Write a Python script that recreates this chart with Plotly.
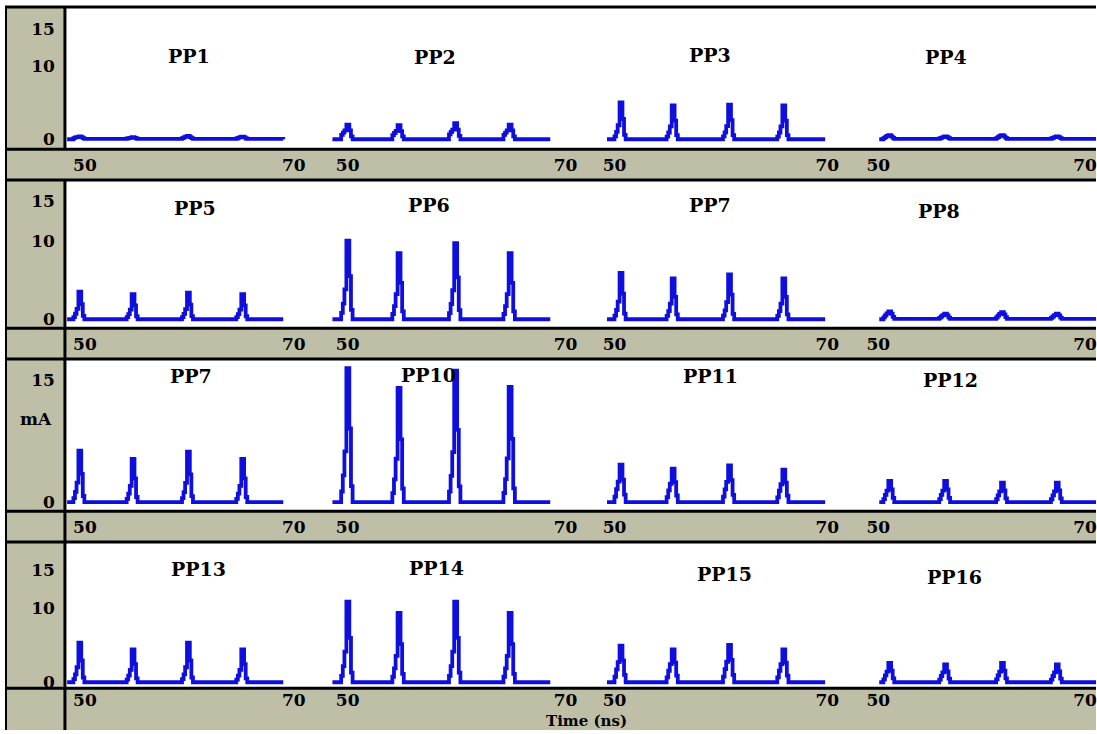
import plotly.graph_objects as go

W, H = 1097, 734

# ---------------- data ----------------
PANEL_NAMES = [
    ["PP1", "PP2", "PP3", "PP4"],
    ["PP5", "PP6", "PP7", "PP8"],
    ["PP7", "PP10", "PP11", "PP12"],
    ["PP13", "PP14", "PP15", "PP16"],
]

# sample times (ns) for each column of panels
TIME_COL1 = [48.3, 48.9, 49.05, 49.2, 49.38, 49.65, 49.8, 49.95,
             54.0, 54.15, 54.3, 54.48, 54.75, 54.9, 55.05,
             59.3, 59.45, 59.6, 59.78, 60.05, 60.2, 60.35,
             64.5, 64.65, 64.8, 64.98, 65.25, 65.4, 65.55, 69.0]
TIME_COL2 = [48.6, 49.4, 49.55, 49.7, 49.88, 50.15, 50.3, 50.45,
             54.1, 54.25, 54.4, 54.58, 54.85, 55.0, 55.15,
             59.3, 59.45, 59.6, 59.78, 60.05, 60.2, 60.35,
             64.3, 64.45, 64.6, 64.78, 65.05, 65.2, 65.35, 68.6]
TIME_COL3 = [49.3, 50.0, 50.15, 50.3, 50.48, 50.75, 50.9, 51.05,
             54.9, 55.05, 55.2, 55.38, 55.65, 55.8, 55.95,
             60.2, 60.35, 60.5, 60.68, 60.95, 61.1, 61.25,
             65.3, 65.45, 65.6, 65.78, 66.05, 66.2, 66.35, 69.8]
TIME_COL4 = [50.1, 50.5, 50.65, 50.8, 50.98, 51.25, 51.4, 51.55,
             55.9, 56.05, 56.2, 56.38, 56.65, 56.8, 56.95,
             61.4, 61.55, 61.7, 61.88, 62.15, 62.3, 62.45,
             66.7, 66.85, 67.0, 67.18, 67.45, 67.6, 67.75, 71.1]
TIME_COLS = [TIME_COL1, TIME_COL2, TIME_COL3, TIME_COL4]

# current (mA) per panel
PP1 = [0, 0.15, 0.25, 0.3, 0.4, 0.3, 0.15, 0.05, 0.1, 0.15, 0.2, 0.3, 0.2, 0.1, 0.05,
       0.15, 0.25, 0.35, 0.45, 0.3, 0.15, 0.05, 0.1, 0.2, 0.3, 0.35, 0.25, 0.1, 0.05, 0]
PP2 = [0, 0.6, 0.9, 1.2, 2.0, 1.2, 0.4, 0, 0.55, 0.85, 1.15, 1.9, 1.1, 0.4, 0,
       0.65, 1.0, 1.3, 2.2, 1.3, 0.45, 0, 0.6, 0.9, 1.2, 2.0, 1.2, 0.4, 0, 0]
PP3 = [0, 0.4, 1.0, 1.9, 5.0, 2.75, 0.6, 0, 0.37, 0.92, 1.75, 4.6, 2.53, 0.55, 0,
       0.38, 0.94, 1.79, 4.7, 2.59, 0.56, 0, 0.37, 0.92, 1.75, 4.6, 2.53, 0.55, 0, 0]
PP4 = [0, 0.15, 0.3, 0.45, 0.55, 0.4, 0.2, 0.05, 0.1, 0.2, 0.3, 0.4, 0.3, 0.15, 0.05,
       0.15, 0.3, 0.45, 0.55, 0.4, 0.2, 0.05, 0.1, 0.2, 0.3, 0.4, 0.3, 0.15, 0.05, 0]
PP5 = [0, 0.28, 0.7, 1.33, 3.5, 1.93, 0.42, 0, 0.26, 0.64, 1.22, 3.2, 1.76, 0.38, 0,
       0.27, 0.68, 1.29, 3.4, 1.87, 0.41, 0, 0.26, 0.64, 1.22, 3.2, 1.76, 0.38, 0, 0]
PP6 = [0, 0.8, 2.0, 3.8, 10.0, 5.5, 1.2, 0, 0.67, 1.68, 3.19, 8.4, 4.62, 1.01, 0,
       0.78, 1.94, 3.69, 9.7, 5.34, 1.16, 0, 0.67, 1.68, 3.19, 8.4, 4.62, 1.01, 0, 0]
PP7_A = [0, 0.47, 1.18, 2.24, 5.9, 3.25, 0.71, 0, 0.42, 1.04, 1.98, 5.2, 2.86, 0.62, 0,
         0.46, 1.14, 2.17, 5.7, 3.14, 0.68, 0, 0.42, 1.04, 1.98, 5.2, 2.86, 0.62, 0, 0]
PP8 = [0, 0.25, 0.5, 0.75, 1.0, 0.7, 0.3, 0.05, 0.18, 0.35, 0.52, 0.7, 0.5, 0.2, 0.05,
       0.22, 0.45, 0.68, 0.9, 0.63, 0.27, 0.05, 0.18, 0.35, 0.52, 0.7, 0.5, 0.2, 0.05, 0]
PP7_B = [0, 0.5, 1.26, 2.39, 6.3, 3.47, 0.76, 0, 0.42, 1.06, 2.01, 5.3, 2.92, 0.64, 0,
         0.5, 1.24, 2.36, 6.2, 3.41, 0.74, 0, 0.42, 1.06, 2.01, 5.3, 2.92, 0.64, 0, 0]
PP10 = [0, 1.31, 3.28, 6.23, 16.4, 9.02, 1.97, 0, 1.12, 2.8, 5.32, 14.0, 7.7, 1.68, 0,
        1.29, 3.22, 6.12, 16.1, 8.86, 1.93, 0, 1.13, 2.82, 5.36, 14.1, 7.76, 1.69, 0, 0]
PP11 = [0, 0.69, 1.61, 2.53, 4.6, 2.76, 0.92, 0, 0.62, 1.44, 2.26, 4.1, 2.46, 0.82, 0,
        0.68, 1.58, 2.48, 4.5, 2.7, 0.9, 0, 0.6, 1.4, 2.2, 4.0, 2.4, 0.8, 0, 0]
PP12 = [0, 0.39, 0.91, 1.43, 2.6, 1.56, 0.52, 0, 0.39, 0.91, 1.43, 2.6, 1.56, 0.52, 0,
        0.36, 0.84, 1.32, 2.4, 1.44, 0.48, 0, 0.36, 0.84, 1.32, 2.4, 1.44, 0.48, 0, 0]
PP13 = [0, 0.42, 1.06, 2.01, 5.3, 2.92, 0.64, 0, 0.35, 0.88, 1.67, 4.4, 2.42, 0.53, 0,
        0.42, 1.06, 2.01, 5.3, 2.92, 0.64, 0, 0.35, 0.88, 1.67, 4.4, 2.42, 0.53, 0, 0]
PP14 = [0, 0.86, 2.16, 4.1, 10.8, 5.94, 1.3, 0, 0.74, 1.86, 3.53, 9.3, 5.12, 1.12, 0,
        0.86, 2.16, 4.1, 10.8, 5.94, 1.3, 0, 0.74, 1.86, 3.53, 9.3, 5.12, 1.12, 0, 0]
PP15 = [0, 0.74, 1.72, 2.7, 4.9, 2.94, 0.98, 0, 0.66, 1.54, 2.42, 4.4, 2.64, 0.88, 0,
        0.75, 1.75, 2.75, 5.0, 3.0, 1.0, 0, 0.66, 1.54, 2.42, 4.4, 2.64, 0.88, 0, 0]
PP16 = [0, 0.39, 0.91, 1.43, 2.6, 1.56, 0.52, 0, 0.36, 0.84, 1.32, 2.4, 1.44, 0.48, 0,
        0.39, 0.91, 1.43, 2.6, 1.56, 0.52, 0, 0.36, 0.84, 1.32, 2.4, 1.44, 0.48, 0, 0]

CURRENTS = [
    [PP1, PP2, PP3, PP4],
    [PP5, PP6, PP7_A, PP8],
    [PP7_B, PP10, PP11, PP12],
    [PP13, PP14, PP15, PP16],
]

X_TICKS = [50, 70]
Y_TICKS_ROWS = [[0, 10, 15], [0, 10, 15], [0, 15], [0, 10, 15]]
Y_LABEL = "mA"
X_LABEL = "Time (ns)"

# ---------------- geometry / style ----------------
GRAY = "#BFBFA8"
BLUE = "#0E0EDF"
FONT = "DejaVu Serif"

COL_DOM_PX = [(65, 320), (320, 590), (590, 852), (852, 1097)]
COL_RANGE = [(48.09, 72.49), (47.43, 72.20), (47.65, 72.25), (47.39, 71.06)]
ROW_DOM_PX = [(8, 150), (182, 330), (362, 514), (546, 692)]
ROW_RANGE = [(-1.35, 17.84), (-1.14, 17.6), (-1.1, 17.4), (-0.8, 18.67)]
ROW_XTICK_STANDOFF = [4, 4, 4, 0]
TITLE_POS = [
    [(189, 56), (435, 57), (711, 55), (947, 57)],
    [(195, 209), (429, 206), (711, 206), (940, 212)],
    [(191, 378), (429, 377), (711, 378), (951, 382)],
    [(199, 572), (437, 571), (725, 577), (955, 580)],
]


def px(x):
    return x / W


def py(y):
    return 1 - y / H


fig = go.Figure()
layout = dict(
    width=W, height=H,
    margin=dict(l=0, r=0, t=0, b=0),
    paper_bgcolor="white", plot_bgcolor="rgba(0,0,0,0)",
    showlegend=False,
)

annotations = []
for r in range(4):
    for c in range(4):
        k = r * 4 + c + 1
        xa = "x" if k == 1 else f"x{k}"
        ya = "y" if k == 1 else f"y{k}"
        fig.add_trace(go.Scatter(
            x=TIME_COLS[c], y=CURRENTS[r][c], mode="lines",
            line=dict(color=BLUE, width=3.8, shape="hv"),
            xaxis=xa, yaxis=ya, hoverinfo="skip",
        ))
        d0, d1 = COL_DOM_PX[c]
        t0, t1 = ROW_DOM_PX[r]
        layout["xaxis" if k == 1 else f"xaxis{k}"] = dict(
            domain=[px(d0), px(d1)], range=list(COL_RANGE[c]), anchor=ya,
            tickvals=X_TICKS, ticks="", showgrid=False, zeroline=False,
            showline=False, ticklabelstandoff=ROW_XTICK_STANDOFF[r],
            ticklabeloverflow="allow",
            tickfont=dict(family=FONT, size=17, color="black", weight="bold"),
        )
        layout["yaxis" if k == 1 else f"yaxis{k}"] = dict(
            domain=[py(t1), py(t0)], range=list(ROW_RANGE[r]), anchor=xa,
            tickvals=Y_TICKS_ROWS[r], ticks="", showgrid=False, zeroline=False,
            showline=False, showticklabels=(c == 0), ticklabelstandoff=9,
            tickfont=dict(family=FONT, size=17, color="black", weight="bold"),
        )
        tx, ty = TITLE_POS[r][c]
        annotations.append(dict(
            text=PANEL_NAMES[r][c], x=px(tx), y=py(ty), xref="paper", yref="paper",
            showarrow=False, xanchor="center", yanchor="middle",
            font=dict(family=FONT, size=19, color="black", weight="bold"),
        ))

annotations.append(dict(text=Y_LABEL, x=px(36), y=py(421), xref="paper", yref="paper",
                        showarrow=False, xanchor="center", yanchor="middle",
                        font=dict(family=FONT, size=17, color="black", weight="bold")))
annotations.append(dict(text=X_LABEL, x=px(587), y=py(734), xref="paper", yref="paper",
                        showarrow=False, xanchor="center", yanchor="bottom", yshift=-2,
                        font=dict(family=FONT, size=15, color="black", weight="bold")))
layout["annotations"] = annotations

shapes = []
# gray left column and gray axis bands
shapes.append(dict(type="rect", xref="paper", yref="paper", x0=px(5), x1=px(65),
                   y0=py(734), y1=py(7), fillcolor=GRAY, line_width=0, layer="below"))
for (b0, b1) in [(150, 181), (330, 361), (514, 545), (692, 734)]:
    shapes.append(dict(type="rect", xref="paper", yref="paper", x0=px(5), x1=px(1097),
                       y0=py(b1), y1=py(b0), fillcolor=GRAY, line_width=0, layer="below"))
# black frame lines
for yy in [7, 150, 181, 330, 361, 514, 545, 692]:
    shapes.append(dict(type="line", xref="paper", yref="paper", x0=px(5), x1=px(1097),
                       y0=py(yy), y1=py(yy), line=dict(color="black", width=3)))
for (v0, v1) in [(7, 150), (181, 734)]:
    shapes.append(dict(type="line", xref="paper", yref="paper", x0=px(65), x1=px(65),
                       y0=py(v1), y1=py(v0), line=dict(color="black", width=3)))
shapes.append(dict(type="line", xref="paper", yref="paper", x0=px(6), x1=px(6),
                   y0=py(734), y1=py(7), line=dict(color="black", width=2)))
layout["shapes"] = shapes

fig.update_layout(**layout)
fig.write_html("out.html", config={"displayModeBar": False},
               post_script="document.body.style.margin='0px';document.body.style.overflow='hidden';")
